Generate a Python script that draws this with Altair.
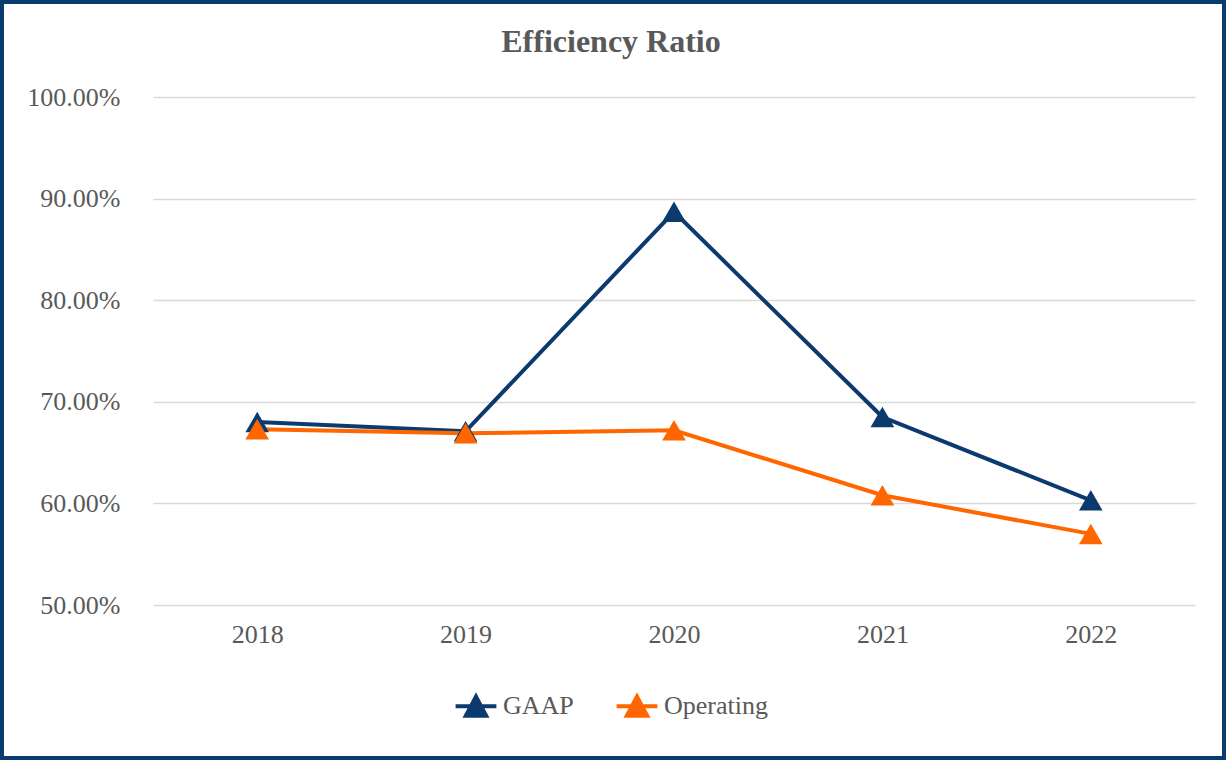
import altair as alt
import pandas as pd

years = ["2018", "2019", "2020", "2021", "2022"]
gaap = [0.680, 0.671, 0.887, 0.685, 0.603]
operating = [0.673, 0.669, 0.672, 0.608, 0.570]
series = ["GAAP", "Operating"]
y_ticks = [0.5, 0.6, 0.7, 0.8, 0.9, 1.0]

rows = []
for s, vals in zip(series, [gaap, operating]):
    for yr, v in zip(years, vals):
        rows.append({"Year": yr, "Value": v, "Series": s})
df = pd.DataFrame(rows)

navy = "#0B3A6E"
orange = "#FF6600"
gray = "#595959"
font = "Liberation Serif"

color_scale = alt.Scale(domain=series, range=[navy, orange])

x = alt.X("Year:O", scale=alt.Scale(type="point", padding=0.5),
          axis=alt.Axis(title=None, labelAngle=0, ticks=False, domain=False, grid=False,
                        labelPadding=16, labelFont=font, labelFontSize=26, labelColor=gray))
y = alt.Y("Value:Q", scale=alt.Scale(domain=[0.5, 1.0], nice=False, zero=False),
          axis=alt.Axis(title=None, format=".2%", values=y_ticks, ticks=False, domain=False,
                        labelPadding=33, labelFont=font, labelFontSize=26, labelColor=gray,
                        gridColor="#d9d9d9", gridWidth=1.5))

legend_path = "M-1.7,0H1.7M0,-0.8L0.85,0.8H-0.85Z"

legend = alt.Legend(
    title=None, orient="none", legendX=309, legendY=595,
    direction="horizontal", symbolType=legend_path, symbolSize=576,
    symbolStrokeWidth=4, labelFont=font, labelFontSize=26,
    labelColor=gray, labelOffset=13, columnPadding=34, padding=0)

lines = alt.Chart(df).mark_line(strokeWidth=4).encode(
    x=x, y=y,
    color=alt.Color("Series:N", scale=color_scale, sort=series, legend=legend)
)

points = alt.Chart(df).mark_point(shape="triangle-up", filled=True, size=560, opacity=1).encode(
    x=x, y=y,
    color=alt.Color("Series:N", scale=color_scale, sort=series, legend=legend)
)

border = alt.Chart(pd.DataFrame({"k": [0]})).mark_rect(
    filled=False, stroke=navy, strokeWidth=4
).encode(x=alt.value(-151), x2=alt.value(1071), y=alt.value(-95), y2=alt.value(661))

chart = alt.layer(lines, points, border).properties(
    width=1042, height=508,
    padding={"left": 153, "top": 97, "right": 31, "bottom": 155},
    autosize="none",
    title=alt.TitleParams("Efficiency Ratio", font=font, fontSize=32, fontWeight="bold",
                          color=gray, anchor="middle", dx=-63, offset=-84,
                          baseline="alphabetic"),
    background="white",
).configure_view(stroke=None)

chart.save("out.html", embed_options={"renderer": "svg", "actions": False})
